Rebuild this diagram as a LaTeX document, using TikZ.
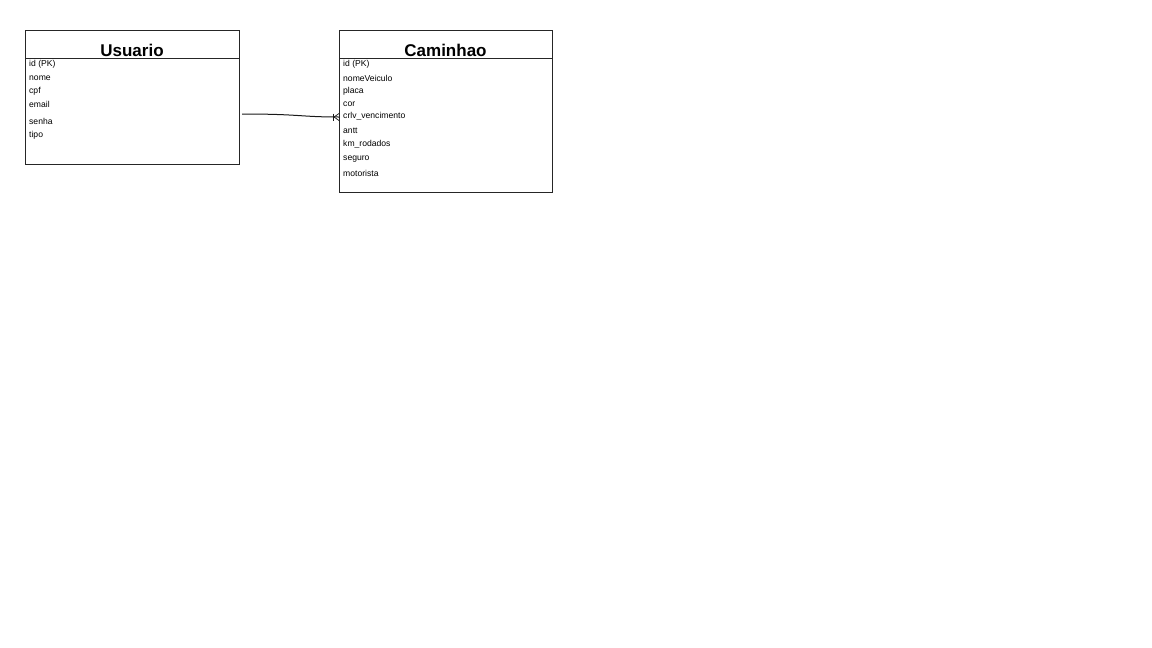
\documentclass[tikz,border=0pt]{standalone}
\usepackage{fontspec}
\setmainfont{Liberation Sans}
\begin{document}
\begin{tikzpicture}[x=1pt,y=-1pt,
  entbox/.style={draw=black!85,line width=1pt,rectangle,anchor=north west,inner sep=0pt},
  hline/.style={draw=black!85,line width=1pt},
  title/.style={font=\fontsize{17}{17}\selectfont\bfseries,anchor=base},
  field/.style={font=\fontsize{8.6}{9}\selectfont,anchor=west,inner sep=0pt},
  conn/.style={draw=black!90,line width=1pt}]
\useasboundingbox (0,0) rectangle (1152,648);
% Usuario
\node[entbox,minimum width=214pt,minimum height=134pt] (usuario) at (25,30) {};
\draw[hline] (25,58) -- (239,58);
\node[title] (ut) at (132,56.5) {Usuario};
\node[field] (u1) at (29,64.5) {id (PK)};
\node[field] (u2) at (29,78) {nome};
\node[field] (u3) at (29,91.5) {cpf};
\node[field] (u4) at (29,104.5) {email};
\node[field] (u5) at (29,121.5) {senha};
\node[field] (u6) at (29,135.5) {tipo};
% Caminhao
\node[entbox,minimum width=213pt,minimum height=162pt] (caminhao) at (339,30) {};
\draw[hline] (339,58) -- (552,58);
\node[title] (ct) at (445.5,56.5) {Caminhao};
\node[field] (c1) at (343,64.5) {id (PK)};
\node[field] (c2) at (343,78) {nomeVeiculo};
\node[field] (c3) at (343,91.5) {placa};
\node[field] (c4) at (343,104.5) {cor};
\node[field] (c5) at (343,116.5) {crlv\_vencimento};
\node[field] (c6) at (343,130.5) {antt};
\node[field] (c7) at (343,144.5) {km\_rodados};
\node[field] (c8) at (343,159.5) {seguro};
\node[field] (c9) at (343,173.5) {motorista};
% connector
\coordinate (cs) at (242,114);
\coordinate (ce) at (339,117);
\coordinate (cf) at (334,117);
\draw[conn] (cs) .. controls (300,114) and (300,117) .. (ce);
\draw[conn,line width=0.7pt] (cf) -- (339,113.5) (cf) -- (339,120.5);
\draw[conn,line width=0.7pt] (333,113.5) -- (333,120.5);
\end{tikzpicture}
\end{document}
